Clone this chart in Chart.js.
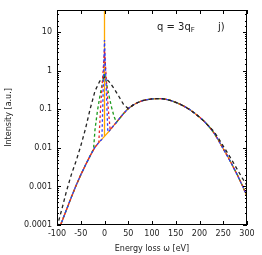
<!DOCTYPE html>
<html lang="en">
<head>
<meta charset="UTF-8">
<title>Intensity vs energy loss</title>
<script src="https://cdn.jsdelivr.net/npm/chart.js"></script>
<style>
  body { margin: 0; background: #fff; }
</style>
</head>
<body>
<canvas id="grafico" width="262" height="255"></canvas>
<script>
// energy loss grid [eV] and the smooth background curve shared by all spectra
const energy = [-100, -90, -80, -70, -60, -50, -40, -30, -20, -10, 0, 10, 20, 30, 40, 50, 60, 70, 80, 90, 100,
  110, 120, 130, 140, 150, 160, 170, 180, 190, 200, 210, 220, 230, 240, 250, 260, 270, 280, 290, 300];
const baseCurve = [0.00006, 0.00012, 0.00025, 0.00052, 0.00105, 0.0020, 0.0036, 0.0063, 0.0105, 0.0148, 0.020,
  0.0275, 0.039, 0.055, 0.078, 0.105, 0.129, 0.151, 0.168, 0.18, 0.187, 0.19, 0.19, 0.182, 0.17, 0.153,
  0.135, 0.116, 0.098, 0.079, 0.063, 0.049, 0.036, 0.025, 0.0158, 0.0095, 0.0058, 0.0034, 0.00195, 0.00107, 0.00056];
const blackCurve = [0.000089, 0.00025, 0.00076, 0.0020, 0.0045, 0.0112, 0.0316, 0.105, 0.30, 0.54, 0.69,
  0.52, 0.35, 0.22, 0.135, 0.105, 0.129, 0.151, 0.168, 0.18, 0.187, 0.19, 0.19, 0.182, 0.17, 0.153,
  0.135, 0.116, 0.098, 0.079, 0.063, 0.049, 0.036, 0.027, 0.0178, 0.0112, 0.0071, 0.0044, 0.0027, 0.00166, 0.00105];

// elastic peaks sitting on the background
const greenEnergy = [-23, -20, -15, -10, -5, 0, 5, 10, 15, 20, 25];
const greenPeak = [0.0095, 0.030, 0.089, 0.21, 0.45, 0.89, 0.42, 0.21, 0.112, 0.066, 0.046];
const redEnergy = [-12, -8, -4, 0, 4, 8, 12];
const redPeak = [0.0138, 0.126, 0.63, 3.5, 0.56, 0.10, 0.0295];
const blueEnergy = [-5.5, 0, 7];
const bluePeak = [0.0166, 6.3, 0.026];
const orangeEnergy = [0, 0, 0];
const orangePeak = [0.02, 1000, 0.02];

const yTickLabels = [0.0001, 0.001, 0.01, 0.1, 1, 10];

function pts(xs, ys) {
  return xs.map((x, i) => ({ x: x, y: ys[i] }));
}

// background outside the peak, peak points inside
function withPeak(px, py) {
  const lo = Math.min(...px), hi = Math.max(...px);
  const out = pts(energy, baseCurve).filter(p => p.x < lo || p.x > hi);
  return out.concat(pts(px, py)).sort((a, b) => a.x - b.x);
}

const font = '"DejaVu Sans", sans-serif';

const frame = {
  id: 'frame',
  afterDatasetsDraw(chart) {
    const { ctx, chartArea: a, scales: { x, y } } = chart;
    ctx.save();
    ctx.strokeStyle = '#000';
    ctx.lineWidth = 1;
    ctx.strokeRect(a.left + 0.5, a.top + 0.5, a.right - a.left - 1, a.bottom - a.top - 1);
    ctx.beginPath();
    x.ticks.forEach(t => {
      const px = Math.round(x.getPixelForValue(t.value)) + 0.5;
      ctx.moveTo(px, a.bottom); ctx.lineTo(px, a.bottom - 4);
      ctx.moveTo(px, a.top); ctx.lineTo(px, a.top + 4);
    });
    y.ticks.forEach(t => {
      const lg = Math.log10(t.value);
      const len = Math.abs(lg - Math.round(lg)) < 1e-6 ? 4 : 2;
      const py = Math.round(y.getPixelForValue(t.value)) + 0.5;
      ctx.moveTo(a.left, py); ctx.lineTo(a.left + len, py);
      ctx.moveTo(a.right, py); ctx.lineTo(a.right - len, py);
    });
    ctx.stroke();

    ctx.fillStyle = '#222';
    ctx.font = '10px ' + font;
    ctx.fillText('q = 3q', 157, 29.5);
    const w = ctx.measureText('q = 3q').width;
    ctx.font = '7px ' + font;
    ctx.fillText('F', 157 + w, 31.5);
    ctx.font = '10px ' + font;
    ctx.fillText('j)', 218, 29.5);
    ctx.restore();
  }
};

function dashed(data, color, dash, offset) {
  return {
    data: data, borderColor: color, borderWidth: 1.3, borderDash: dash, borderDashOffset: offset || 0,
    pointRadius: 0, tension: 0, fill: false
  };
}

new Chart(document.getElementById('grafico'), {
  type: 'line',
  data: {
    datasets: [
      dashed(pts(energy, blackCurve), '#222', [3.5, 3]),
      dashed(withPeak(blueEnergy, bluePeak), '#2b3bff', [2.5, 2.5], 2.5),
      dashed(withPeak(redEnergy, redPeak), '#e8262b', [2.5, 2.5]),
      dashed(withPeak(greenEnergy, greenPeak), '#1c9a1c', [3, 2.5]),
      dashed(withPeak(orangeEnergy, orangePeak), '#ffa800', [])
    ]
  },
  options: {
    responsive: false,
    animation: false,
    devicePixelRatio: 1,
    layout: { padding: { left: 0, right: 15, top: 10, bottom: 0 } },
    plugins: { legend: { display: false }, tooltip: { enabled: false } },
    scales: {
      x: {
        type: 'linear', min: -100, max: 300,
        grid: { display: false, drawTicks: false },
        border: { display: false },
        ticks: { stepSize: 50, maxRotation: 0, padding: 4, color: '#222', font: { family: font, size: 8 } },
        title: { display: true, text: 'Energy loss ω [eV]', color: '#222', font: { family: font, size: 8 }, padding: { top: 0, bottom: 1 } },
        afterFit(s) { s.height = 30; }
      },
      y: {
        type: 'logarithmic', min: 0.0001, max: 38,
        grid: { display: false, drawTicks: false },
        border: { display: false },
        ticks: {
          autoSkip: false, padding: 5, color: '#222', font: { family: font, size: 8 },
          callback(v) {
            const hit = yTickLabels.find(l => Math.abs(Math.log10(l) - Math.log10(v)) < 1e-6);
            return hit === undefined ? '' : String(hit);
          }
        },
        title: { display: true, text: 'Intensity [a.u.]', color: '#222', font: { family: font, size: 8 }, padding: { top: 4, bottom: 0 } },
        afterFit(s) { s.width = 57; }
      }
    }
  },
  plugins: [frame]
});
</script>
</body>
</html>
